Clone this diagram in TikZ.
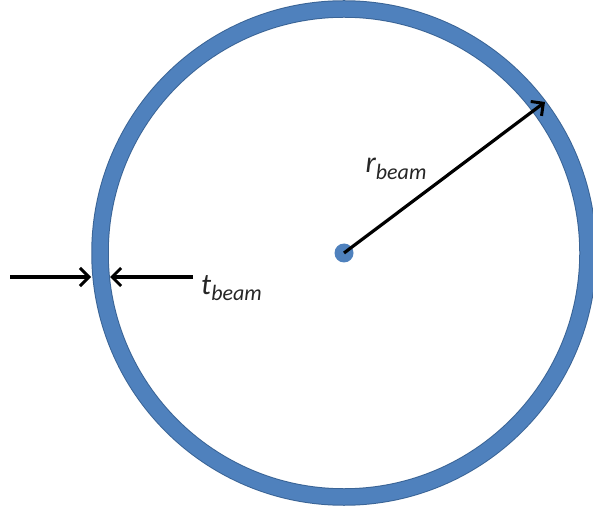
\documentclass[tikz,border=0pt]{standalone}
\usepackage{fontspec}
\setmainfont{Carlito}
\usetikzlibrary{arrows.meta,positioning,calc}

\definecolor{ringblue}{HTML}{4F81BD}
\definecolor{ringedge}{HTML}{3A6496}

\tikzset{
  dimarrow/.style={black, line width=3.2pt, -{Straight Barb[length=9pt, width=18pt, line width=3pt]}},
  dimlabel/.style={inner sep=0pt, text=black!85, font=\fontsize{30}{32}\selectfont\itshape},
}
\newcommand{\subtxt}[1]{\raisebox{-0.45ex}{\fontsize{22}{24}\selectfont\itshape #1}}

\begin{document}
\begin{tikzpicture}[x=1pt, y=1pt]
\useasboundingbox (0,0) rectangle (593,514);

% Ring
\node[circle, fill=ringblue, minimum size=19pt, inner sep=0pt] (centre) at (344,261) {};
\draw[ringedge, line width=17.5pt] (centre) circle [radius=244pt];
\draw[ringblue, line width=15.5pt] (centre) circle [radius=244pt];

% Radius
\coordinate (rim) at (545,412);
\draw[dimarrow] (centre.center) -- (rim);
\node[dimlabel] (rlabel) at (396,345) {r\subtxt{beam}};

% Thickness
\coordinate (leftend) at (10,237);
\coordinate (outerpt) at (91,237);
\coordinate (rightend) at (193,237);
\coordinate (innerpt) at (110,237);
\draw[dimarrow] (leftend) -- (outerpt);
\draw[dimarrow] (rightend) -- (innerpt);
\node[dimlabel, anchor=west] (tlabel) at (201,226) {t\subtxt{beam}};
\end{tikzpicture}
\end{document}
